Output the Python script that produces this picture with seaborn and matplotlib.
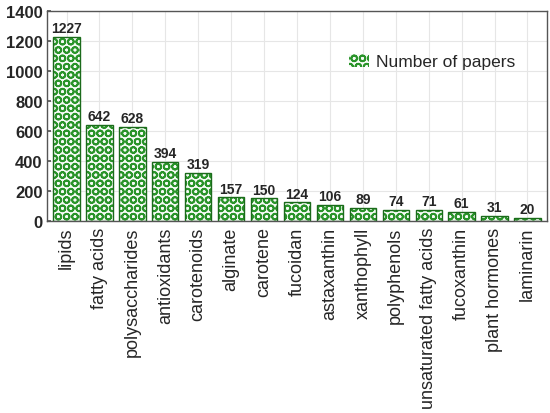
import matplotlib
matplotlib.use("Agg")
import matplotlib.pyplot as plt
import seaborn as sns
import pandas as pd

categories = ["lipids", "fatty acids", "polysaccharides", "antioxidants", "carotenoids",
              "alginate", "carotene", "fucoidan", "astaxanthin", "xanthophyll",
              "polyphenols", "unsaturated fatty acids", "fucoxanthin", "plant hormones",
              "laminarin"]
papers = [1227, 642, 628, 394, 319, 157, 150, 124, 106, 89, 74, 71, 61, 31, 20]

df = pd.DataFrame({"category": categories, "papers": papers})

sns.set_theme(style="whitegrid")
plt.rcParams["font.family"] = ["Liberation Sans", "DejaVu Sans"]
plt.rcParams["hatch.linewidth"] = 1.3

fig = plt.figure(figsize=(5.5, 4.14), dpi=100)
ax = fig.add_axes([0.085, 0.464, 0.91, 0.507])

dark = "#1b6b1b"
dot = "#2a942a"
pattern = "OO"

# base bars: white with green dot pattern
sns.barplot(data=df, x="category", y="papers", ax=ax, color="#f6fbf6",
            saturation=1, width=0.8, edgecolor=dot, linewidth=0,
            label="Number of papers")
for p in ax.patches:
    p.set_hatch(pattern)
    p.set_edgecolor(dot)
# dark outline on top
for p in list(ax.patches):
    ax.bar(p.get_x() + p.get_width() / 2, p.get_height(), width=p.get_width(),
           facecolor="none", edgecolor=dark, linewidth=1.0, zorder=p.get_zorder() + 0.2)

for i, v in enumerate(papers):
    ax.text(i, v + 12, str(v), ha="center", va="bottom", fontsize=10, fontweight="bold")

ax.set_ylim(0, 1400)
ax.set_yticks(range(0, 1401, 200))
ax.set_xlim(-0.6, len(categories) - 0.4)
ax.set_xlabel("")
ax.set_ylabel("")
ax.tick_params(axis="y", labelsize=12, pad=3, length=3, direction="in", left=True, color="#555555")
ax.tick_params(axis="x", labelsize=13, rotation=90, pad=4, length=0)
for lab in ax.get_yticklabels():
    lab.set_fontweight("bold")
ax.grid(True, color="#e6e6e6", linewidth=0.8)
for s in ax.spines.values():
    s.set_color("#555555")
    s.set_linewidth(1.0)

handles, labels = ax.get_legend_handles_labels()
leg = ax.legend(handles[:1], ["Number of papers"], loc="center right",
                bbox_to_anchor=(0.968, 0.76), frameon=False, fontsize=12.5,
                handlelength=1.2, handleheight=0.8, handletextpad=0.4)
for h in leg.legend_handles:
    h.set_hatch(pattern)
    h.set_edgecolor(dot)
    h.set_facecolor("#f6fbf6")
    h.set_linewidth(0)

fig.savefig("out.png", dpi=100)
